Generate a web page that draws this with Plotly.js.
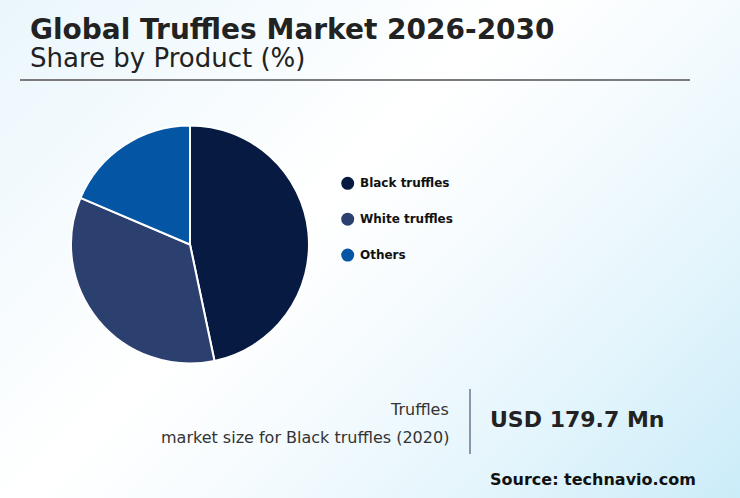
<!DOCTYPE html>
<html>
<head>
<meta charset="utf-8">
<script src="https://cdn.plot.ly/plotly-3.0.1.min.js"></script>
<style>
  html, body { margin: 0; padding: 0; }
  body {
    width: 740px; height: 498px; overflow: hidden;
    background: linear-gradient(135deg, #eaf6fc 0%, #ffffff 42%, #f8fcfe 55%, #e4f5fc 78%, #cbecf9 100%);
  }
  #chart { width: 740px; height: 498px; }
</style>
</head>
<body>
<div id="chart"></div>
<script>
// share by product (%)
const products = ['Black truffles', 'White truffles', 'Others'];
const shares = [46.7, 34.7, 18.6];
const colors = ['#071b42', '#2c4070', '#0456a5'];

const W = 740, H = 498;
const px = x => x / W;
const py = y => 1 - y / H;

// pie placement (pixels)
const cx = 190, cy = 244.5, r = 119;

const traces = [{
    type: 'pie',
    labels: products,
    values: shares,
    marker: { colors: colors, line: { color: '#ffffff', width: 2 } },
    sort: false,
    direction: 'clockwise',
    rotation: 0,
    textinfo: 'none',
    hoverinfo: 'label+percent',
    showlegend: false,
    domain: { x: [px(cx - r), px(cx + r)], y: [py(cy + r), py(cy - r)] }
}];

const font = 'DejaVu Sans, sans-serif';
const shapes = [
    // rule under the titles
    { type: 'line', xref: 'paper', yref: 'paper', x0: px(20), x1: px(690), y0: py(80), y1: py(80),
      line: { color: '#7b7b7b', width: 2 } },
    // separator next to the market size
    { type: 'line', xref: 'paper', yref: 'paper', x0: px(470), x1: px(470), y0: py(389), y1: py(454),
      line: { color: '#8a97a8', width: 2 } }
];
const annotations = [
    { text: '<b>Global Truffles Market 2026-2030</b>', x: px(28), y: py(30), xanchor: 'left', yanchor: 'middle',
      font: { family: font, size: 28, color: '#222222' } },
    { text: 'Share by Product (%)', x: px(28), y: py(58), xanchor: 'left', yanchor: 'middle',
      font: { family: font, size: 26, color: '#222222' } },
    { text: 'Truffles', x: px(451), y: py(409), xanchor: 'right', yanchor: 'middle',
      font: { family: font, size: 16, color: '#333333' } },
    { text: 'market size for Black truffles (2020)', x: px(451), y: py(437), xanchor: 'right', yanchor: 'middle',
      font: { family: font, size: 16, color: '#333333' } },
    { text: '<b>USD 179.7 Mn</b>', x: px(488), y: py(419), xanchor: 'left', yanchor: 'middle',
      font: { family: font, size: 22, color: '#222222' } },
    { text: '<b>Source: technavio.com</b>', x: px(488), y: py(479), xanchor: 'left', yanchor: 'middle',
      font: { family: font, size: 16, color: '#111111' } }
];

// custom legend with round markers
products.forEach((p, i) => {
    const ly = 183.3 + i * 35.9;
    shapes.push({ type: 'circle', xref: 'paper', yref: 'paper',
        x0: px(341.2), x1: px(354.2), y0: py(ly + 6.5), y1: py(ly - 6.5),
        fillcolor: colors[i], line: { width: 0 } });
    annotations.push({ text: '<b>' + p + '</b>', x: px(358), y: py(ly), xanchor: 'left', yanchor: 'middle',
        font: { family: font, size: 12, color: '#111111' } });
});
annotations.forEach(a => { a.xref = 'paper'; a.yref = 'paper'; a.showarrow = false; });

const layout = {
    width: W, height: H,
    margin: { t: 0, r: 0, b: 0, l: 0 },
    paper_bgcolor: 'rgba(0,0,0,0)',
    plot_bgcolor: 'rgba(0,0,0,0)',
    showlegend: false,
    shapes: shapes,
    annotations: annotations
};

Plotly.newPlot('chart', traces, layout, { displayModeBar: false, staticPlot: true });
</script>
</body>
</html>
